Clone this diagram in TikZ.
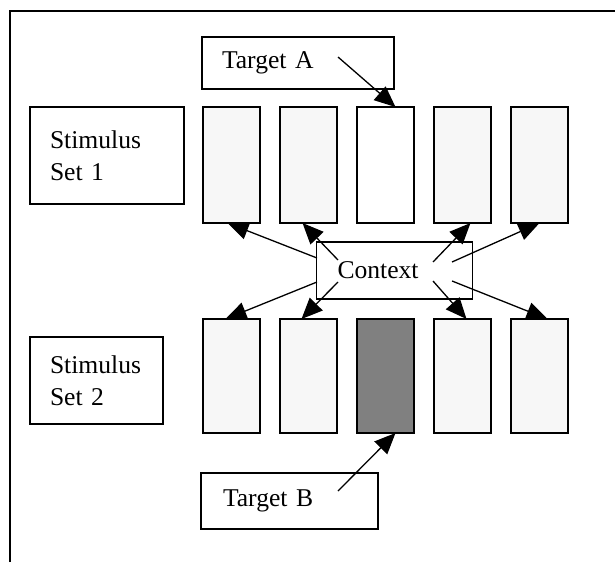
\documentclass[tikz,border=0pt]{standalone}
\usepackage{fontspec}
\setmainfont{Liberation Serif}
\usetikzlibrary{arrows.meta}
\definecolor{stpale}{RGB}{247,247,247}
\definecolor{stdark}{RGB}{128,128,128}
\tikzset{
  stlabel/.style={draw, line width=.7pt, align=left, inner xsep=10pt, inner ysep=0pt, outer sep=0pt},
  stcell/.style={draw, line width=.7pt, minimum width=28.5pt, inner sep=0pt, outer sep=0pt},
  starr/.style={-{Triangle[length=10.5pt,width=9pt]}, line width=.65pt}
}

\begin{document}
\begin{tikzpicture}[x=.5pt, y=-.5pt, font=\fontsize{12.8}{16}\selectfont]
  \useasboundingbox (0,0) rectangle (615,562);
  \draw[line width=1pt] (9.5,562) -- (9.5,11) -- (615,11);
  \node[stlabel, text width=57pt, minimum height=48.5pt] (set1) at (107,155.5) {Stimulus\\Set 1};
  \node[stlabel, text width=46.5pt, minimum height=43.5pt] (set2) at (96.5,380.5) {Stimulus\\Set 2};
  \node[stlabel, text width=76pt, minimum height=26pt] (tgta) at (298,63) {Target A};
  \node[stlabel, text width=66.5pt, inner xsep=11pt, minimum height=28pt] (tgtb) at (289.5,501) {Target B};
  \node[stlabel, text width=57pt, inner xsep=10.5pt, minimum height=28.5pt] (ctx) at (394.5,270.5) {Context};
  % stimulus cells, upper and lower set
  \foreach \i/\x/\ucol/\dcol in {1/231.5/stpale/stpale, 2/308.5/stpale/stpale, 3/385.5/white/stdark, 4/462.5/stpale/stpale, 5/539.5/stpale/stpale} {
    \node[stcell, fill=\ucol, minimum height=58pt] (u\i) at (\x,165) {};
    \node[stcell, fill=\dcol, minimum height=57pt] (d\i) at (\x,376) {};
  }
  % arrow tails
  \coordinate (ta) at (338,57);
  \coordinate (tb) at (338,491);
  \coordinate (c1) at (317,258);
  \coordinate (c2) at (338,260);
  \coordinate (c3) at (433,262);
  \coordinate (c4) at (452,262);
  \coordinate (c5) at (317,282);
  \coordinate (c6) at (338,282);
  \coordinate (c7) at (433,281);
  \coordinate (c8) at (452,281);
  \draw[starr] (ta) -- ([xshift=5pt]u3.north);
  \draw[starr] (tb) -- ([xshift=5pt]d3.south);
  \draw[starr] (c1) -- ([xshift=-2pt]u1.south);
  \draw[starr] (c2) -- ([xshift=-3pt]u2.south);
  \draw[starr] (c3) -- ([xshift=4pt]u4.south);
  \draw[starr] (c4) -- ([xshift=0pt]u5.south);
  \draw[starr] (c5) -- ([xshift=-3pt]d1.north);
  \draw[starr] (c6) -- ([xshift=-3.5pt]d2.north);
  \draw[starr] (c7) -- ([xshift=2pt]d4.north);
  \draw[starr] (c8) -- ([xshift=4pt]d5.north);
\end{tikzpicture}
\end{document}
